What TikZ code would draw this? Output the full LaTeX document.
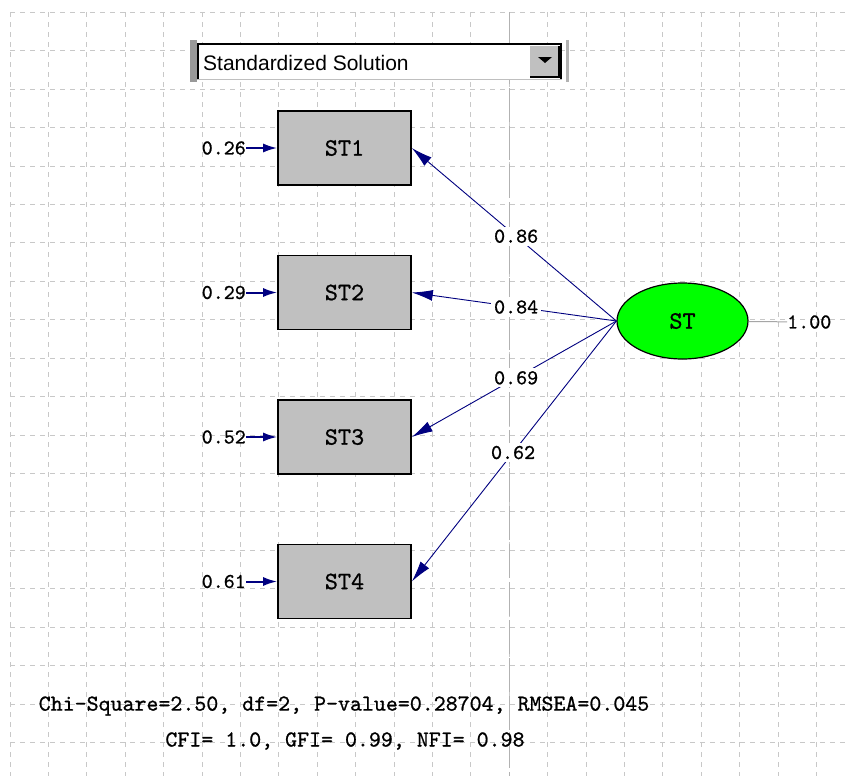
\documentclass[tikz,border=0pt]{standalone}
\usepackage{fontspec}
\newfontfamily\uifont{Liberation Sans}
\newfontfamily\lisrelfont{lmmono10-regular}[Extension=.otf,FakeBold=0.9]
\usetikzlibrary{shapes.geometric,arrows.meta}
\definecolor{pathblue}{RGB}{0,0,128}
\definecolor{boxgray}{RGB}{192,192,192}
\definecolor{gridgray}{RGB}{200,200,200}
\definecolor{latentgreen}{RGB}{0,255,0}
\begin{document}
\begin{tikzpicture}[x=1pt,y=-1pt,
    gridline/.style={gridgray,line width=1pt,dash pattern=on 5pt off 5pt},
    observed/.style={draw,line width=1.6pt,fill=boxgray,
        minimum width=133pt,minimum height=74pt,
        font=\lisrelfont\fontsize{25}{28}\selectfont},
    latent/.style={ellipse,draw,line width=1.2pt,fill=latentgreen,inner sep=0pt,
        minimum width=131pt,minimum height=76pt,
        font=\lisrelfont\fontsize{25}{28}\selectfont},
    numlabel/.style={inner sep=0pt,font=\lisrelfont\fontsize{21}{24}\selectfont},
    coef/.style={fill=white,inner sep=3pt,font=\lisrelfont\fontsize{21}{24}\selectfont},
    loading/.style={-{Latex[length=21pt,width=11pt]},draw=pathblue,line width=0.9pt},
    errarrow/.style={-{Latex[length=14pt,width=9pt]},draw=pathblue,line width=2pt},
    fitline/.style={inner sep=0pt,font=\lisrelfont\fontsize{22.8}{26}\selectfont}
]
    \useasboundingbox[fill=white] (0,0) rectangle (850,776);

    % background grid
    \foreach \i in {0,...,21}
        \draw[gridline] ({10+38.41*\i},12.3) -- ({10+38.41*\i},776);
    \foreach \j in {0,...,19}
        \draw[gridline] (10,{12.3+38.43*\j}) -- (850,{12.3+38.43*\j});
    \draw[black!30,line width=1pt,dash pattern=on 34pt off 4pt] (509.3,12.3) -- (509.3,776);

    % solution selector
    \fill[black!40] (190,40) rectangle (197,82);
    \fill[black!30] (566,40) rectangle (569,82);
    \fill[white] (197,43) rectangle (562,79);
    \draw[black!25,line width=1pt] (197,79) -- (562,79);
    \draw[black,line width=2pt] (198,79) -- (198,44) -- (561,44) -- (561,79);
    \fill[boxgray] (530,46) rectangle (559,77);
    \draw[black,line width=1.5pt] (530,77) -- (559,77) -- (559,46);
    \fill[black] (538,57) -- (552,57) -- (545,63) -- cycle;
    \node[anchor=west,inner sep=0pt,font=\uifont\fontsize{21}{24}\selectfont] (selector) at (203,62.5)
        {Standardized Solution};

    % indicators
    \node[observed] (ST1) at (344.5,148) {ST1};
    \node[observed] (ST2) at (344.5,292.5) {ST2};
    \node[observed] (ST3) at (344.5,437) {ST3};
    \node[observed] (ST4) at (344.5,581.5) {ST4};

    % latent variable
    \node[latent] (ST) at (682.5,321) {ST};
    \node[numlabel,anchor=west] (varST) at (787,322) {1.00};
    \draw[black!35,line width=1pt] (ST) -- (varST);

    % error variances
    \node[numlabel,anchor=east] (e1) at (246,148) {0.26};
    \node[numlabel,anchor=east] (e2) at (246,292.5) {0.29};
    \node[numlabel,anchor=east] (e3) at (246,437) {0.52};
    \node[numlabel,anchor=east] (e4) at (246,581.5) {0.61};
    \draw[errarrow] (e1) -- (ST1);
    \draw[errarrow] (e2) -- (ST2);
    \draw[errarrow] (e3) -- (ST3);
    \draw[errarrow] (e4) -- (ST4);

    % loadings
    \draw[loading] (ST.west) -- node[coef,pos=0.49] (l1) {0.86} (ST1.east);
    \draw[loading] (ST.west) -- node[coef,pos=0.49] (l2) {0.84} (ST2.east);
    \draw[loading] (ST.west) -- node[coef,pos=0.49] (l3) {0.69} (ST3.east);
    \draw[loading] (ST.west) -- node[coef,pos=0.505] (l4) {0.62} (ST4.east);

    % fit statistics
    \node[fitline] (fit1) at (344,706) {Chi-Square=2.50, df=2, P-value=0.28704, RMSEA=0.045};
    \node[fitline] (fit2) at (345,741) {CFI= 1.0, GFI= 0.99, NFI= 0.98};
\end{tikzpicture}
\end{document}
